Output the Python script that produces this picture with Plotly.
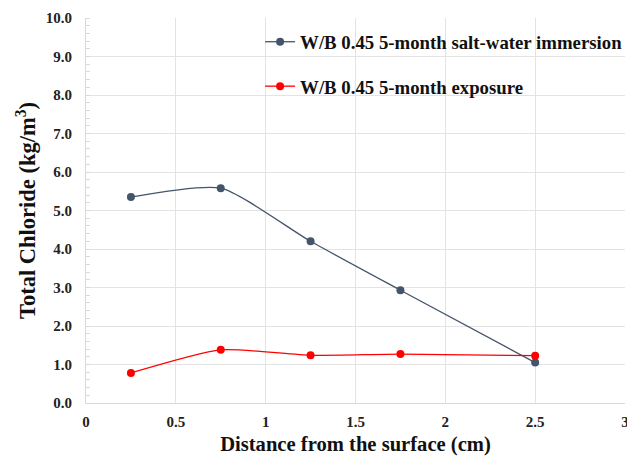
import plotly.graph_objects as go

depth = [0.25, 0.75, 1.25, 1.75, 2.5]
immersion = [5.35, 5.58, 4.20, 2.93, 1.05]
exposure = [0.78, 1.38, 1.24, 1.27, 1.23]
name_imm = "W/B 0.45 5-month salt-water immersion"
name_exp = "W/B 0.45 5-month exposure"
y_ticks = [0, 1, 2, 3, 4, 5, 6, 7, 8, 9, 10]
x_ticks = [0, 0.5, 1, 1.5, 2, 2.5, 3]

font_fam = "Liberation Serif"

fig = go.Figure()
fig.add_trace(go.Scatter(x=depth, y=immersion, name=name_imm, mode="lines+markers",
                         legendgroup="a",
                         line=dict(color="#44546a", width=1.3, shape="spline", smoothing=0.6),
                         marker=dict(color="#44546a", size=8)))
fig.add_trace(go.Scatter(x=depth, y=exposure, name=name_exp, mode="lines+markers",
                         legendgroup="b",
                         line=dict(color="#ff0000", width=1.3, shape="spline", smoothing=0.6),
                         marker=dict(color="#ff0000", size=8)))

fig.update_layout(
    width=627, height=454,
    margin=dict(l=78, r=7, t=10, b=59),
    paper_bgcolor="white", plot_bgcolor="white",
    font=dict(family=font_fam, color="#222", size=14),
    showlegend=True,
    legend=dict(x=0.323, y=0.987, xanchor="left", yanchor="top",
                font=dict(family=font_fam, size=18.8, color="#111", weight="bold"),
                bgcolor="rgba(0,0,0,0)", tracegroupgap=17, itemwidth=30,
                traceorder="grouped", itemsizing="trace"),
    xaxis=dict(range=[0, 3], tickvals=x_ticks, ticktext=[str(v) for v in x_ticks],
               automargin=False, ticklabeloverflow="allow", ticklabelstandoff=5,
               showgrid=True, gridcolor="#e3e3e3", gridwidth=1,
               showline=True, linecolor="#d9d9d9", linewidth=1,
               zeroline=False, ticks="", ticklen=0,
               tickfont=dict(family=font_fam, size=15, color="#222", weight="bold"),
               title=dict(text="Distance from the surface (cm)", standoff=7,
                          font=dict(family=font_fam, size=20.6, color="#111", weight="bold"))),
    yaxis=dict(range=[0, 10], tickvals=y_ticks, ticktext=[f"{v:.1f}" for v in y_ticks],
               automargin=False, ticklabeloverflow="allow", ticklabelstandoff=10,
               showgrid=True, gridcolor="#e3e3e3", gridwidth=1,
               showline=True, linecolor="#d9d9d9", linewidth=1,
               zeroline=False, ticks="", ticklen=0,
               minor=dict(dtick=0.2, ticks="inside", ticklen=4, tickcolor="#d9d9d9", showgrid=False),
               tickfont=dict(family=font_fam, size=15, color="#222", weight="bold"),
               title=dict(text="Total Chloride (kg/m<sup>3</sup>)", standoff=3,
                          font=dict(family=font_fam, size=22.5, color="#111", weight="bold"))),
)

fig.write_html("out.html")
